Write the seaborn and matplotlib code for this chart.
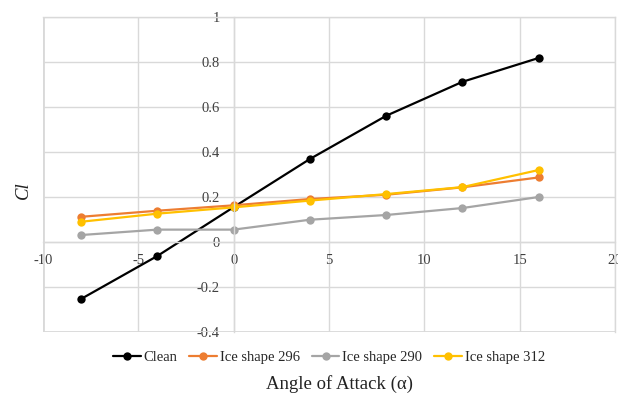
import pandas as pd
import numpy as np
import matplotlib
matplotlib.use('Agg')
import matplotlib.pyplot as plt
import seaborn as sns

# data
aoa = [-8, -4, 0, 4, 8, 12, 16]
clean = [-0.253, -0.062, 0.155, 0.369, 0.561, 0.712, 0.818]
ice_296 = [0.112, 0.139, 0.163, 0.191, 0.21, 0.243, 0.287]
ice_290 = [0.031, 0.055, 0.055, 0.099, 0.12, 0.151, 0.2]
ice_312 = [0.09, 0.126, 0.154, 0.184, 0.213, 0.244, 0.32]
series_names = ['Clean', 'Ice shape 296', 'Ice shape 290', 'Ice shape 312']
colors = ['#000000', '#ED7D31', '#A5A5A5', '#FFC000']

df = pd.concat([
    pd.DataFrame({'aoa': aoa, 'cl': vals, 'series': name})
    for name, vals in zip(series_names, [clean, ice_296, ice_290, ice_312])
])

sns.set_style('whitegrid')
plt.rcParams['font.family'] = ['Liberation Serif', 'DejaVu Serif']

fig = plt.figure(figsize=(6.18, 3.94), dpi=100)
ax = fig.add_axes([43/618, 62/394, 572/618, 315/394])

sns.lineplot(data=df, x='aoa', y='cl', hue='series', hue_order=series_names,
             palette=colors, marker='o', markersize=6, markeredgewidth=0,
             linewidth=1.6, ax=ax, legend=True)

ax.set_xlim(-10, 20)
ax.set_ylim(-0.4, 1)
ax.set_xticks([-10, -5, 0, 5, 10, 15, 20])
ax.set_yticks([-0.4, -0.2, 0, 0.2, 0.4, 0.6, 0.8, 1])
ax.set_xticklabels(['-10', '-5', '0', '5', '10', '15', '20'])
ax.set_yticklabels(['-0.4', '-0.2', '0', '0.2', '0.4', '0.6', '0.8', '1'])
ax.grid(True, color='#d9d9d9', linewidth=1)
ax.set_xlabel('')
ax.set_ylabel('')

# axes cross at zero, like the spreadsheet chart
ax.spines['left'].set_position(('data', 0))
ax.spines['bottom'].set_position(('data', 0))
for s in ['left', 'bottom', 'top', 'right']:
    ax.spines[s].set_color('#d9d9d9')
    ax.spines[s].set_linewidth(1)
ax.tick_params(length=0, labelsize=10.5, labelcolor='#404040')
ax.tick_params(axis='x', pad=9)
ax.tick_params(axis='y', pad=10)
ax.axvline(-10, color='#d9d9d9', linewidth=2)
ax.axhline(-0.4, color='#d9d9d9', linewidth=2)

handles, labels = ax.get_legend_handles_labels()
ax.get_legend().remove()
fig.legend(handles, labels, loc='center', bbox_to_anchor=(329/618, 1 - 357/394),
           ncol=4, frameon=False, fontsize=10.5, handlelength=1.9,
           handletextpad=0.2, columnspacing=0.8)

fig.text(340/618, 1 - 384/394, 'Angle of Attack (α)', ha='center', va='center',
         fontsize=13.5, color='#222222')
fig.text(23/618, 1 - 190/394, 'Cl', ha='center', va='center', rotation=90,
         fontsize=13.5, style='italic', color='#222222')

fig.savefig('out.png', dpi=100)
